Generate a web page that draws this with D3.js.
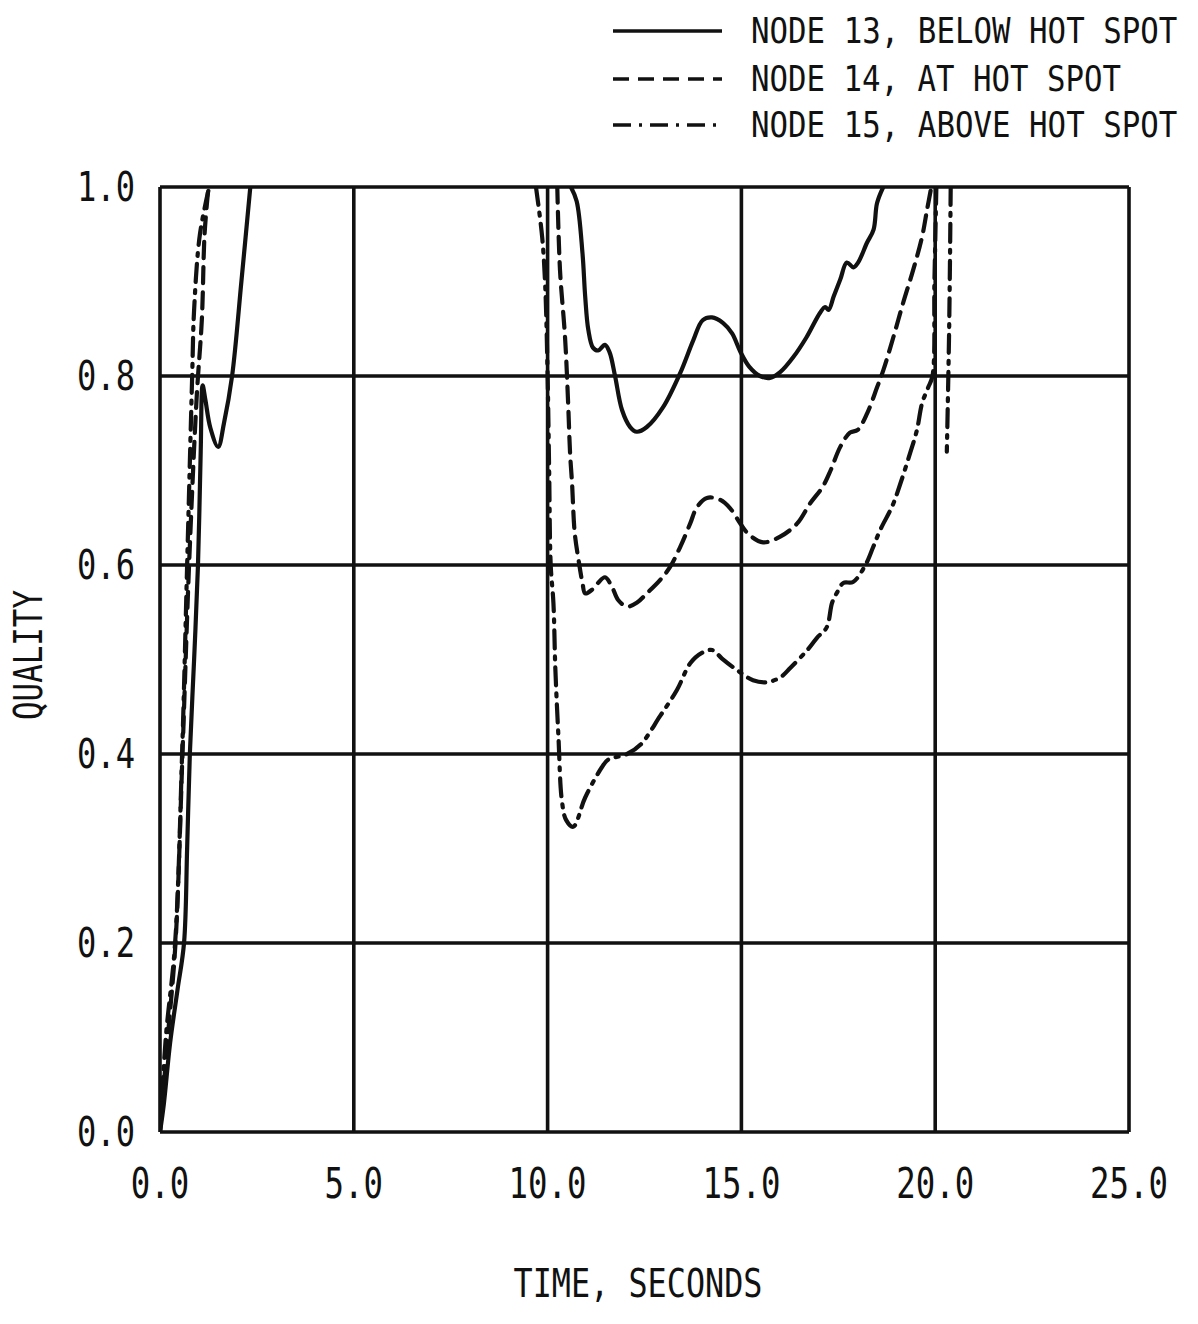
<!DOCTYPE html>
<html>
<head>
<meta charset="utf-8">
<script src="https://cdn.jsdelivr.net/npm/d3@7"></script>
<style>
  html, body { margin: 0; padding: 0; background: #fff; }
  svg { display: block; }
  text { font-family: "DejaVu Sans Mono", "Liberation Mono", monospace; fill: #111; }
</style>
</head>
<body>
<svg id="chart" width="1198" height="1324"></svg>
<script>
// Tick values and labels
const xTicks = [0, 5, 10, 15, 20, 25];
const xTickLabels = ["0.0", "5.0", "10.0", "15.0", "20.0", "25.0"];
const yTicks = [0, 0.2, 0.4, 0.6, 0.8, 1.0];
const yTickLabels = ["0.0", "0.2", "0.4", "0.6", "0.8", "1.0"];

// Series: [time (s), quality]; null quality = off scale (above 1.0)
const node13 = [
  [0, 0], [0.1, 0.03], [0.26, 0.094], [0.45, 0.15], [0.62, 0.2], [0.7, 0.3], [0.77, 0.4],
  [0.88, 0.5], [0.98, 0.6], [1.05, 0.72], [1.1, 0.79], [1.17, 0.775], [1.3, 0.745],
  [1.5, 0.725], [1.65, 0.75], [1.86, 0.8], [2.1, 0.9], [2.33, 1.0],
  [2.4, null], [10.5, null],
  [10.6, 1.0], [10.75, 0.985], [10.9, 0.93], [10.97, 0.884], [11.05, 0.849], [11.17, 0.83],
  [11.3, 0.827], [11.48, 0.833], [11.6, 0.825], [11.74, 0.8], [11.92, 0.764], [12.13, 0.746],
  [12.3, 0.741], [12.56, 0.746], [12.98, 0.767], [13.42, 0.803], [13.76, 0.838], [14.0, 0.859],
  [14.24, 0.862], [14.53, 0.856], [14.76, 0.845], [14.97, 0.826], [15.2, 0.81], [15.48, 0.8],
  [15.74, 0.798], [16.0, 0.804], [16.34, 0.82], [16.68, 0.841], [17.03, 0.867], [17.16, 0.873],
  [17.25, 0.87], [17.38, 0.884], [17.55, 0.902], [17.72, 0.92], [17.89, 0.915], [18.01, 0.92],
  [18.24, 0.941], [18.41, 0.955], [18.5, 0.983], [18.66, 1.0]
];
const node14 = [
  [0, 0], [0.2, 0.1], [0.4, 0.2], [0.58, 0.4], [0.75, 0.6], [0.95, 0.78], [1.08, 0.86],
  [1.15, 0.95], [1.25, 1.0],
  [1.3, null], [10.2, null],
  [10.25, 1.0], [10.32, 0.912], [10.45, 0.841], [10.53, 0.771], [10.58, 0.718], [10.63, 0.687],
  [10.7, 0.634], [10.8, 0.605], [10.9, 0.581], [10.97, 0.57], [11.15, 0.574], [11.3, 0.581],
  [11.48, 0.587], [11.66, 0.577], [11.82, 0.563], [12.05, 0.556], [12.3, 0.56], [12.56, 0.57],
  [12.9, 0.584], [13.16, 0.598], [13.42, 0.619], [13.68, 0.644], [13.85, 0.661], [14.11, 0.671],
  [14.45, 0.669], [14.71, 0.66], [14.97, 0.644], [15.2, 0.632], [15.56, 0.624], [16.0, 0.63],
  [16.44, 0.644], [16.77, 0.665], [17.1, 0.683], [17.3, 0.7], [17.55, 0.725], [17.8, 0.74],
  [18.0, 0.743], [18.25, 0.761], [18.5, 0.788], [18.66, 0.806], [18.92, 0.841], [19.17, 0.877],
  [19.43, 0.912], [19.66, 0.947], [19.79, 0.976], [19.9, 1.0]
];
const node15 = [
  [0, 0], [0.15, 0.1], [0.39, 0.2], [0.57, 0.4], [0.7, 0.6], [0.83, 0.8], [0.88, 0.87],
  [1.03, 0.95], [1.27, 1.0],
  [1.3, null], [9.65, null],
  [9.7, 1.0], [9.86, 0.947], [9.94, 0.894], [10.0, 0.8], [10.04, 0.7], [10.08, 0.6],
  [10.15, 0.56], [10.2, 0.49], [10.28, 0.418], [10.37, 0.35], [10.48, 0.33], [10.66, 0.323],
  [10.97, 0.354], [11.4, 0.386], [11.56, 0.394], [12.05, 0.4], [12.4, 0.41], [12.9, 0.44],
  [13.34, 0.468], [13.68, 0.496], [13.98, 0.507], [14.25, 0.51], [14.5, 0.501], [14.88, 0.489],
  [15.3, 0.478], [15.66, 0.476], [16.0, 0.481], [16.26, 0.491], [16.7, 0.51], [16.95, 0.523],
  [17.2, 0.534], [17.34, 0.56], [17.47, 0.571], [17.63, 0.581], [17.88, 0.582], [18.2, 0.6],
  [18.4, 0.619], [18.58, 0.637], [18.9, 0.663], [19.1, 0.686], [19.35, 0.718], [19.53, 0.743],
  [19.66, 0.771], [19.82, 0.788], [19.93, 0.8], [19.98, 0.9], [20.03, 1.0],
  [20.1, null], [20.35, null],
  [20.4, 1.0], [20.36, 0.85], [20.3, 0.72]
];

const legendLabels = ["NODE 13, BELOW HOT SPOT", "NODE 14, AT HOT SPOT", "NODE 15, ABOVE HOT SPOT"];
const xTitle = "TIME, SECONDS";
const yTitle = "QUALITY";

const svg = d3.select("#chart");
const x = d3.scaleLinear().domain([0, 25]).range([160, 1129]);
const y = d3.scaleLinear().domain([0, 1]).range([1132, 187]);

const ink = "#111";
const styles = [
  { data: node13, dash: null },
  { data: node14, dash: "16,9" },
  { data: node15, dash: "18,8,3,8" }
];

// Plot frame clip
svg.append("defs").append("clipPath").attr("id", "plotClip")
  .append("rect").attr("x", x(0)).attr("y", y(1)).attr("width", x(25) - x(0)).attr("height", y(0) - y(1));

// Grid lines
const grid = svg.append("g");
grid.selectAll("line.v").data(xTicks).join("line")
  .attr("x1", d => x(d)).attr("x2", d => x(d)).attr("y1", y(0)).attr("y2", y(1))
  .attr("stroke", ink).attr("stroke-width", 3.6);
grid.selectAll("line.h").data(yTicks).join("line")
  .attr("x1", x(0)).attr("x2", x(25)).attr("y1", d => y(d)).attr("y2", d => y(d))
  .attr("stroke", ink).attr("stroke-width", 3.6);

// Curves
const line = d3.line()
  .defined(d => d[1] !== null)
  .x(d => x(d[0])).y(d => y(d[1]))
  .curve(d3.curveCatmullRom.alpha(0.5));
const curves = svg.append("g").attr("clip-path", "url(#plotClip)");
styles.forEach(s => {
  curves.append("path").datum(s.data)
    .attr("d", line)
    .attr("fill", "none").attr("stroke", ink).attr("stroke-width", 4.2)
    .attr("stroke-linecap", "round").attr("stroke-linejoin", "round")
    .attr("stroke-dasharray", s.dash);
});

// Text helper: fixed advance, slightly tall glyphs
function label(g, txt, px, py, size, len, anchor, sy) {
  return g.append("text").text(txt)
    .attr("transform", `translate(${px},${py}) scale(1,${sy || 1})`)
    .attr("font-size", size).attr("text-anchor", anchor)
    .attr("textLength", len).attr("lengthAdjust", "spacingAndGlyphs");
}
const lab = svg.append("g");
yTicks.forEach((v, i) => label(lab, yTickLabels[i], 135, y(v) + 14, 36, 58, "end", 1.12));
xTicks.forEach((v, i) => label(lab, xTickLabels[i], x(v), 1198, 38, xTickLabels[i].length * 19.5, "middle", 1.12));

// Axis titles
label(lab, xTitle, 638, 1297, 34, 249, "middle", 1.15);
lab.append("text").text(yTitle)
  .attr("transform", "translate(42,655) rotate(-90) scale(1,1.15)")
  .attr("font-size", 34).attr("text-anchor", "middle")
  .attr("textLength", 130).attr("lengthAdjust", "spacingAndGlyphs");

// Legend
const legY = [31, 79, 125];
const leg = svg.append("g");
styles.forEach((s, i) => {
  leg.append("line")
    .attr("x1", 613).attr("x2", 722).attr("y1", legY[i]).attr("y2", legY[i])
    .attr("stroke", ink).attr("stroke-width", 3.6)
    .attr("stroke-dasharray", s.dash);
  label(leg, legendLabels[i], 751, legY[i] + 12, 30, legendLabels[i].length * 18.8 - 6, "start", 1.18);
});
</script>
</body>
</html>
